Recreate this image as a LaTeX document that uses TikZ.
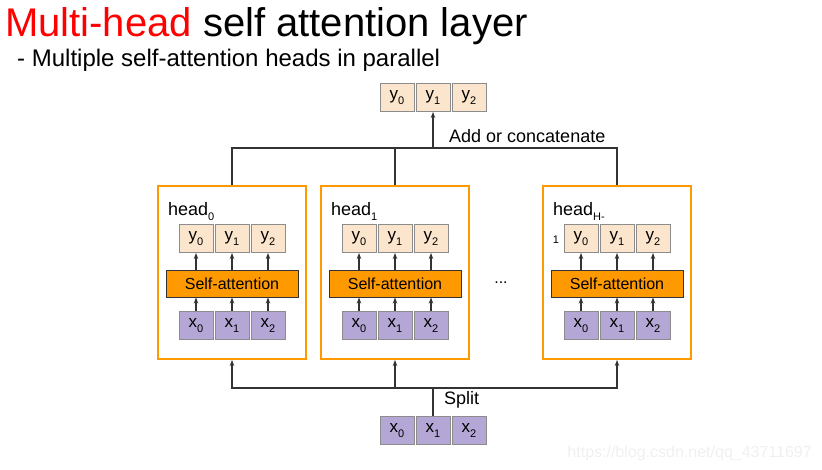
\documentclass[tikz,border=0pt]{standalone}
\usepackage{fontspec}
\setmainfont{Liberation Sans}
\usetikzlibrary{arrows.meta}

\definecolor{inpurple}{HTML}{B4A7D6}
\definecolor{outpeach}{HTML}{FCE5CD}
\definecolor{saorange}{HTML}{FF9900}
\definecolor{linegray}{HTML}{333333}
\definecolor{titlered}{HTML}{FF0000}

% lowered index, as the slides set it
\newcommand{\tokidx}[1]{\raisebox{-5pt}{\fontsize{11}{11}\selectfont #1}}

\tikzset{
  tok/.style={draw=black!45, line width=1pt, minimum width=34pt, minimum height=28pt,
    inner sep=0pt, font=\fontsize{17}{17}\selectfont},
  xtok/.style={tok, fill=inpurple},
  ytok/.style={tok, fill=outpeach},
  sablock/.style={draw=black!80, line width=1pt, fill=saorange, minimum width=132pt,
    minimum height=27pt, inner sep=0pt, font=\fontsize{16}{16}\selectfont},
  headbox/.style={draw=saorange, line width=2pt, minimum width=148pt, minimum height=173pt, inner sep=0pt},
  link/.style={draw=linegray, line width=1.2pt},
  uparrow/.style={link, -{Stealth[length=6pt,width=4.5pt]}},
  lbl/.style={anchor=base west, inner sep=0pt, font=\fontsize{18}{18}\selectfont},
}

\begin{document}
\begin{tikzpicture}[x=1pt, y=-1pt]
\useasboundingbox (0,0) rectangle (822,469);

% title
\node[anchor=base west, inner sep=0pt, font=\fontsize{40}{40}\selectfont] (title) at (5,36)
  {\textcolor{titlered}{Multi-head} self attention layer};
\node[anchor=base west, inner sep=0pt, font=\fontsize{24}{24}\selectfont] (subtitle) at (17,66)
  {- Multiple self-attention heads in parallel};

% heads
\foreach \h/\cx/\lab in {0/232/head\tokidx{0}, 1/395/head\tokidx{1}, 2/617/head\tokidx{H-}} {
  \node[headbox] (head\h) at (\cx,272.5) {};
  \node[lbl] (hlab\h) at ({\cx-64},215) {\lab};
  \node[sablock] (sa\h) at (\cx,283.5) {Self-attention};
  \foreach \i/\dx in {0/-36, 1/0, 2/36} {
    \node[ytok] (y\h\i) at ({\cx+(\dx)},238.5) {y\tokidx{\i}};
    \node[xtok] (x\h\i) at ({\cx+(\dx)},325.5) {x\tokidx{\i}};
    \draw[uparrow] (x\h\i) -- (x\h\i |- sa\h.south);
    \draw[uparrow] (sa\h.north -| y\h\i) -- (y\h\i);
  }
}
\node[inner sep=0pt, font=\fontsize{11}{11}\selectfont] (hlabtail) at (556,240) {1};
\node[inner sep=0pt, font=\fontsize{16}{16}\selectfont] (dots) at (501,283) {...};

% output tokens
\foreach \i/\dx in {0/-36, 1/0, 2/36} {
  \node[ytok] (yout\i) at ({433+(\dx)},97.5) {y\tokidx{\i}};
  \node[xtok] (xin\i) at ({433+(\dx)},430.5) {x\tokidx{\i}};
}

% merge
\coordinate (merge) at (433,148);
\draw[link] (head0.north) |- (merge) -| (head2.north);
\draw[link] (head1.north) -- (head1.north |- merge);
\draw[uparrow] (merge) -- (yout1);
\node[lbl] (mergelab) at (449,142) {Add or concatenate};

% split
\coordinate (split) at (433,388);
\draw[link] (xin1) -- (split);
\draw[uparrow] (split) -| (head0.south);
\draw[uparrow] (split) -| (head2.south);
\draw[uparrow] (split -| head1.south) -- (head1.south);
\node[lbl] (splitlab) at (444,404) {Split};

% watermark
\node[anchor=base east, inner sep=0pt, text=black!6, font=\fontsize{16}{16}\selectfont] (mark) at (812,457)
  {https://blog.csdn.net/qq\_43711697};
\end{tikzpicture}
\end{document}
